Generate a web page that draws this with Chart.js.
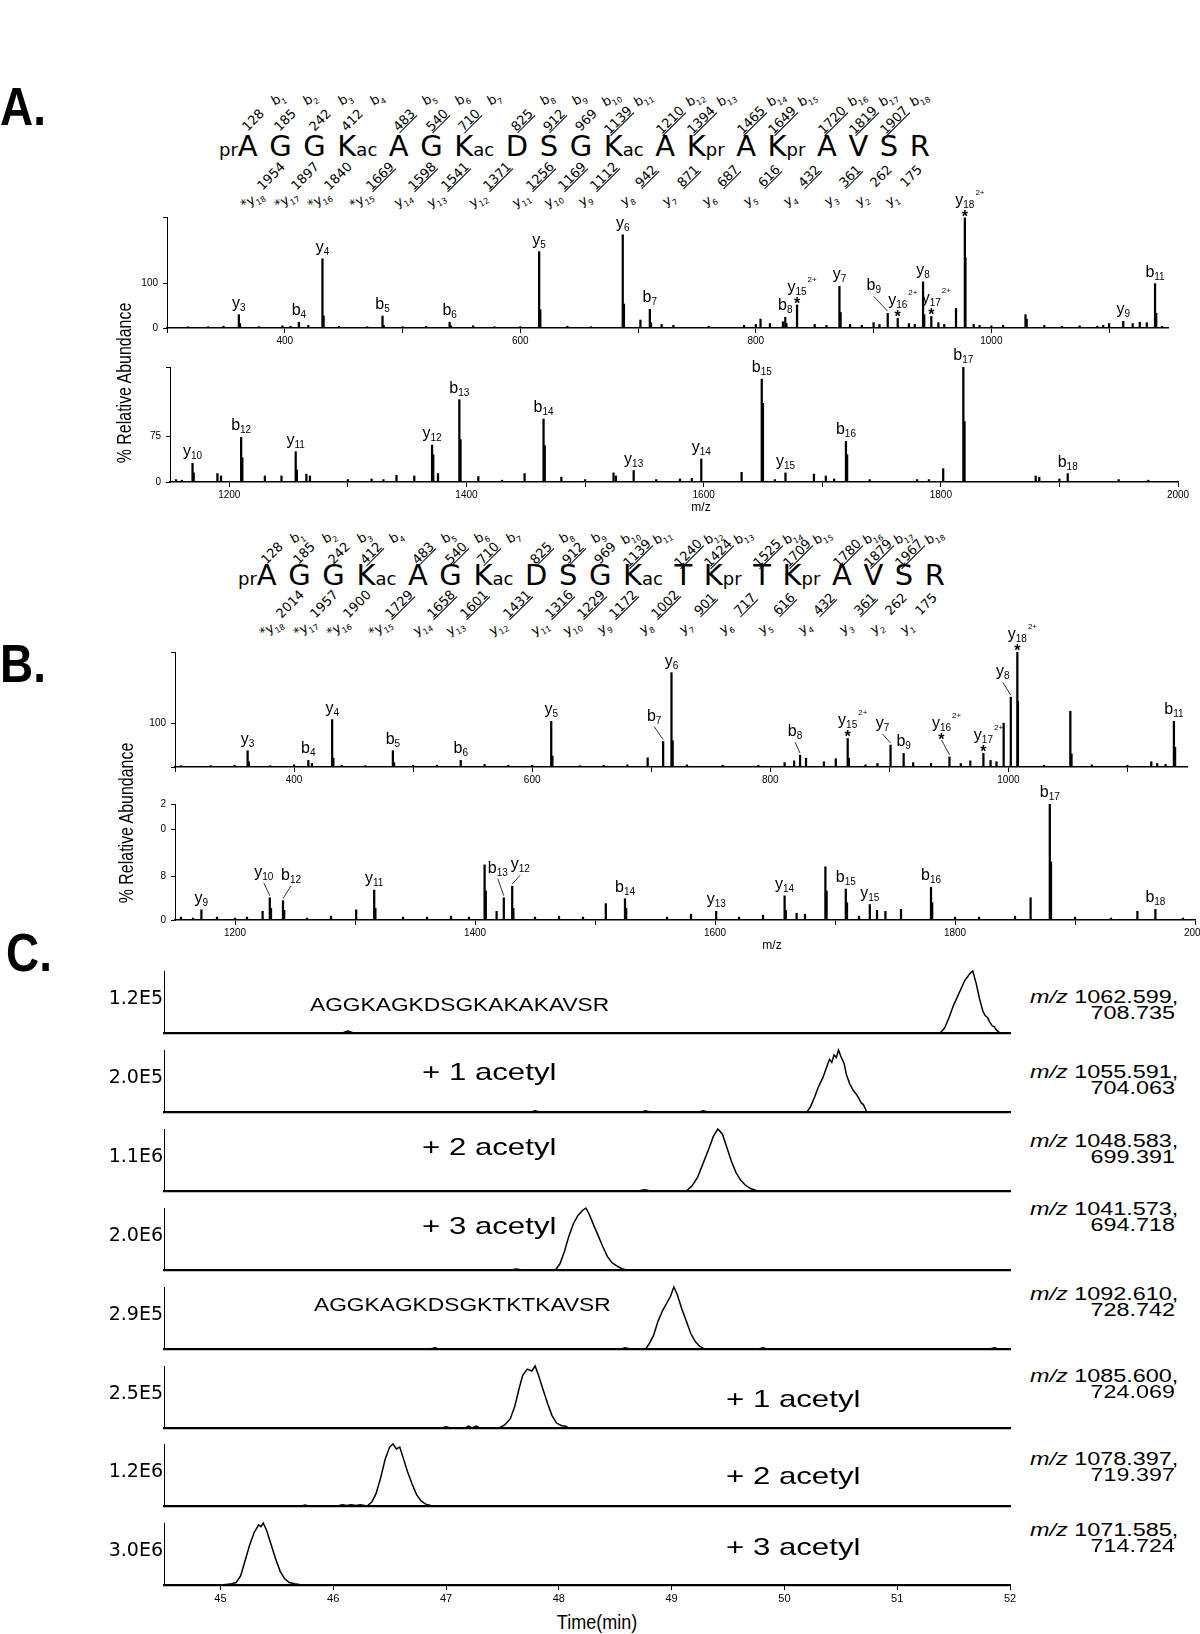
<!DOCTYPE html>
<html>
<head>
<meta charset="utf-8">
<title>MS/MS spectra and extracted ion chromatograms</title>
<script src="https://cdn.jsdelivr.net/npm/chart.js@4.4.1/dist/chart.umd.min.js"></script>
<style>
  body { margin: 0; background: #fff; }
  #fig { position: relative; width: 1200px; height: 1634px; overflow: hidden; background: #fff; color: #000;
         font-family: "Liberation Sans", Arial, sans-serif; }
  #fig canvas { position: absolute; }
  .t { position: absolute; white-space: nowrap; line-height: 1; }
  .seq { position: absolute; display: flex; justify-content: space-between; align-items: baseline;
         font-family: "DejaVu Sans", sans-serif; font-size: 29px; line-height: 1; }
  .seq .m { font-size: 18px; }
  .rot { position: absolute; white-space: nowrap; line-height: 1; font-family: "DejaVu Sans", sans-serif; }
  .num { font-size: 13px; transform: translate(-50%, -50%) rotate(-45deg); }
  .ion { font-size: 13px; transform: translate(-50%, -50%) rotate(-30deg); }
  .ion sub { font-size: 8px; }
  .u { text-decoration: underline; }
</style>
</head>
<body>
<div id="fig"></div>
<script>
// ---- peptide A: AGGKacAGKacDSGKacAKprAKprAVSR ----
const seqA = ['A','G','G','K','A','G','K','D','S','G','K','A','K','A','K','A','V','S','R'];
const modA = ['','','','ac','','','ac','','','','ac','','pr','','pr','','','',''];
const bIonsA = [128,185,242,412,483,540,710,825,912,969,1139,1210,1394,1465,1649,1720,1819,1907];
const bSeenA = [0,0,0,0,1,1,1,1,1,0,1,1,1,1,1,1,1,1];
const yIonsA = [1954,1897,1840,1669,1598,1541,1371,1256,1169,1112,942,871,687,616,432,361,262,175];
const ySeenA = [0,0,0,1,1,1,1,1,1,1,1,1,1,1,1,1,0,0];

// ---- peptide B: AGGKacAGKacDSGKacTKprTKprAVSR ----
const seqB = ['A','G','G','K','A','G','K','D','S','G','K','T','K','T','K','A','V','S','R'];
const modB = ['','','','ac','','','ac','','','','ac','','pr','','pr','','','',''];
const bIonsB = [128,185,242,412,483,540,710,825,912,969,1139,1240,1424,1525,1709,1780,1879,1967];
const bSeenB = [0,0,0,1,1,1,1,1,1,0,1,1,1,1,1,1,1,1];
const yIonsB = [2014,1957,1900,1729,1658,1601,1431,1316,1229,1172,1002,901,717,616,432,361,262,175];
const ySeenB = [0,0,0,1,1,1,1,1,1,1,1,1,1,1,1,1,0,0];
const yStar = [1,1,1,1,0,0,0,0,0,0,0,0,0,0,0,0,0,0];

// ---- spectrum A, low m/z ----
const a1IonNames = ['y3','b4','y4','b5','b6','y5','y6','b7','b8','y15 2+*','y7','b9','y16 2+*','y8','y17 2+*','y18 2+*','y9','b11'];
const a1IonMz = [361,412,432,483,540,616,687,710,825,835,871,912,920.5,942,949,977.5,1112,1139];
const a1IonInt = [30,13,156,27,13,172,210,42,24,52,94,33,22,104,26,248,15,100];
const a1OtherMz = [318,335,348,362,378,398,405,420,433,446,470,484,500,520,541,560,578,600,617,640,660,688,702,711,720,730,760,790,800,804,812,823,826,850,860,872,880,890,900,905,930,935,943,955,960,970,978,985,990,1000,1010,1029,1030,1045,1060,1075,1090,1095,1100,1120,1126,1132,1140,1145];
const a1OtherInt = [3,3,4,10,3,5,4,6,27,4,3,6,3,4,5,5,3,3,41,4,3,54,18,12,8,6,4,6,8,20,10,14,10,8,6,35,8,6,12,8,10,8,30,12,8,44,159,8,6,5,6,30,20,6,4,5,4,6,10,10,13,12,33,4];

// ---- spectrum A, high m/z ----
const a2IonNames = ['y10','b12','y11','y12','b13','b14','y13','y14','b15','y15','b16','b17','b18'];
const a2IonMz = [1169,1210,1256,1371,1394,1465,1541,1598,1649,1669,1720,1819,1907];
const a2IonInt = [31,74,50,61,136,104,19,38,170,15,67,190,14];
const a2OtherMz = [1155,1160,1170,1190,1193,1211,1230,1244,1257,1265,1268,1300,1320,1330,1341,1356,1372,1376,1395,1410,1430,1449,1466,1480,1500,1524,1526,1560,1580,1590,1632,1650,1660,1693,1703,1710,1721,1740,1780,1790,1802,1820,1880,1883,1900,1950,1975];
const a2OtherInt = [4,3,15,14,10,40,10,10,20,13,10,4,5,4,11,10,45,14,70,9,3,14,60,8,4,15,10,4,5,6,16,130,4,13,10,5,45,4,4,4,22,100,10,8,5,4,3];

// ---- spectrum B, low m/z ----
const b1IonNames = ['y3','b4','y4','b5','b6','y5','b7','y6','b8','y15 2+*','y7','b9','y16 2+*','y17 2+*','y8','y18 2+*','b11'];
const b1IonMz = [361,412,432,483,540,616,710,717,825,865,901,912,950.5,979,1002,1007.5,1139];
const b1IonInt = [37,15,108,37,15,104,58,215,27,65,50,31,23,31,159,262,104];
const b1OtherMz = [305,330,350,362,380,400,415,433,440,460,484,500,520,560,580,600,617,640,660,680,697,718,730,760,790,812,820,830,845,855,866,880,890,920,935,960,968,985,990,996,1008,1030,1052,1053,1070,1100,1120,1125,1132,1140];
const b1OtherInt = [3,3,4,12,3,5,8,20,4,3,10,4,4,6,4,4,25,3,4,5,21,60,5,4,4,10,14,20,12,19,20,5,8,10,8,8,14,15,12,100,150,4,127,30,5,4,12,8,6,45];

// ---- spectrum B, high m/z ----
const b2IonNames = ['y9','y10','b12','y11','b13','y12','b14','y13','y14','b15','y15','b16','b17','b18'];
const b2IonMz = [1172,1229,1240,1316,1424,1431,1525,1601,1658,1709,1729,1780,1879,1967];
const b2IonInt = [10.5,23,20,31,23,35,22,9,25,32,16,34,120,11];
const b2OtherMz = [1155,1165,1185,1200,1210,1223,1230,1241,1260,1280,1301,1317,1340,1360,1380,1395,1408,1409,1418,1432,1450,1470,1490,1509,1526,1560,1580,1620,1640,1659,1668,1675,1692,1693,1710,1720,1735,1742,1755,1781,1800,1820,1850,1863,1880,1900,1930,1952,1990];
const b2OtherInt = [3,2,3,2,3,9,12,10,2,4,10.5,12,3,3,4,3,57,30,9,12,3,4,3,17,12,3,6,3,5,10,7,6,55,30,18,4,10,9,11,18,3,3,4,23,60,3,2,9,2];

// ---- extracted ion chromatograms (time in min, % of max) ----
const c1Time = [44.5,46.08,46.13,46.18,51.38,51.42,51.46,51.50,51.55,51.60,51.65,51.67,51.70,51.73,51.76,51.78,51.80,51.82,51.84,51.86,51.88,51.91,52];
const c1Int  = [0,0,3,0,0,8,25,45,65,85,97,100,80,55,35,28,25,18,12,10,5,0,0];
const c2Time = [44.5,47.75,47.79,47.83,48.73,48.77,48.81,49.24,49.28,49.32,50.20,50.23,50.27,50.30,50.34,50.37,50.40,50.42,50.44,50.46,50.48,50.50,50.53,50.55,50.58,50.61,50.64,50.66,50.68,50.70,50.73,52];
const c2Int  = [0,0,2,0,0,2,0,0,2,0,0,8,25,40,55,70,85,80,92,88,100,90,78,60,45,35,28,22,15,12,0,0];
const c3Time = [44.5,48.70,48.76,48.82,49.13,49.18,49.23,49.28,49.33,49.37,49.41,49.45,49.49,49.53,49.57,49.61,49.65,49.70,49.76,52];
const c3Int  = [0,0,2,0,0,8,22,45,68,88,100,92,70,48,30,18,10,4,0,0];
const c4Time = [44.5,47.58,47.62,47.68,47.97,48.01,48.05,48.09,48.13,48.17,48.21,48.24,48.27,48.31,48.35,48.39,48.43,48.47,48.52,48.56,48.60,52];
const c4Int  = [0,0,1.5,0,0,10,30,55,75,88,96,100,90,72,55,38,22,12,6,2,0,0];
const c5Time = [44.5,46.86,46.90,46.94,48.55,48.59,48.63,48.77,48.80,48.84,48.88,48.92,48.96,48.99,49.02,49.05,49.09,49.13,49.17,49.21,49.25,49.29,49.77,49.81,49.85,51.82,51.86,51.90,52];
const c5Int  = [0,0,2,0,0,2,0,0,8,22,45,62,75,85,100,88,65,45,25,12,4,0,0,2,0,0,2,0,0];
const c6Time = [44.5,46.96,47.00,47.04,47.17,47.20,47.23,47.27,47.30,47.47,47.52,47.57,47.61,47.65,47.68,47.72,47.76,47.79,47.82,47.86,47.90,47.94,47.98,48.02,48.06,48.09,52];
const c6Int  = [0,0,2,0,0,3,0,3,0,0,5,15,35,65,85,95,92,100,85,62,40,20,8,4,3,0,0];
const c7Time = [44.5,45.72,45.75,45.78,46.04,46.08,46.12,46.16,46.20,46.24,46.30,46.34,46.38,46.42,46.46,46.50,46.53,46.56,46.59,46.62,46.66,46.70,46.74,46.78,46.82,46.88,52];
const c7Int  = [0,0,1.5,0,0,2,1,2,1,2,0,6,20,45,75,95,100,92,95,78,55,35,18,8,3,0,0];
const c8Time = [44.5,45.00,45.05,45.10,45.14,45.18,45.22,45.26,45.30,45.34,45.36,45.38,45.41,45.45,45.49,45.53,45.57,45.61,45.66,45.72,52];
const c8Int  = [0,0,1,2,4,15,40,65,85,97,94,100,88,65,42,22,10,4,2,0,0];

const cMaxLabels = ['1.2E5','2.0E5','1.1E6','2.0E6','2.9E5','2.5E5','1.2E6','3.0E6'];
const cTitles = ['AGGKAGKDSGKAKAKAVSR','+ 1 acetyl','+ 2 acetyl','+ 3 acetyl','AGGKAGKDSGKTKTKAVSR','+ 1 acetyl','+ 2 acetyl','+ 3 acetyl'];
const cMz1 = ['1062.599,','1055.591,','1048.583,','1041.573,','1092.610,','1085.600,','1078.397,','1071.585,'];
const cMz2 = ['708.735','704.063','699.391','694.718','728.742','724.069','719.397','714.724'];
const timeTicks = [45,46,47,48,49,50,51,52];

const fig = document.getElementById('fig');
const FONT = '"Liberation Sans", Arial, sans-serif';

// place a text span by its baseline; sx stretches it horizontally
function txt(html, x, base, size, align, sx) {
  const s = document.createElement('span');
  s.className = 't';
  s.innerHTML = html;
  s.style.fontSize = size + 'px';
  s.style.left = x + 'px';
  s.style.top = (base - 0.85 * size) + 'px';
  const tx = align === 'center' ? '-50%' : align === 'right' ? '-100%' : '0';
  s.style.transformOrigin = align === 'center' ? 'center center' : align === 'right' ? 'right center' : 'left center';
  s.style.transform = 'translateX(' + tx + ') scaleX(' + (sx || 1) + ')';
  fig.appendChild(s);
  return s;
}

function rot(html, cx, cy, cls) {
  const s = document.createElement('span');
  s.className = 'rot ' + cls;
  s.innerHTML = html;
  s.style.left = cx + 'px';
  s.style.top = cy + 'px';
  fig.appendChild(s);
}

// sequence header with b / y fragment ladders
function buildHeader(h) {
  const row = document.createElement('div');
  row.className = 'seq';
  row.style.left = h.left + 'px';
  row.style.width = (h.right - h.left) + 'px';
  row.style.top = (h.base - 0.846 * 29) + 'px';
  fig.appendChild(row);
  const letters = h.seq.map((r, i) => {
    const c = document.createElement('span');
    if (i === 0) c.innerHTML = '<span class="m">pr</span>';
    const l = document.createElement('span');
    l.textContent = r;
    c.appendChild(l);
    if (h.mods[i]) c.insertAdjacentHTML('beforeend', '<span class="m">' + h.mods[i] + '</span>');
    row.appendChild(c);
    return l;
  });
  const fr = fig.getBoundingClientRect();
  const mid = letters.map(l => { const r = l.getBoundingClientRect(); return (r.left + r.right) / 2 - fr.left; });
  const n = h.seq.length;
  for (let k = 0; k < n - 1; k++) {
    const cut = (mid[k] + mid[k + 1]) / 2;
    rot('<span class="' + (h.bSeen[k] ? 'u' : '') + '">' + h.bIons[k] + '</span>', mid[k] + 5, h.topY, 'num');
    rot('b<sub>' + (k + 1) + '</sub>', mid[k] + 31, h.bY, 'ion');
    rot('<span class="' + (h.ySeen[k] ? 'u' : '') + '">' + h.yIons[k] + '</span>', cut + 7, h.botY, 'num');
    rot((yStar[k] ? '*' : '') + 'y<sub>' + (n - 1 - k) + '</sub>', cut - 11, h.yY, 'ion');
  }
}

// peak annotation: letter, subscript, optional 2+ and asterisk
function drawIon(ctx, px, py, name, sh) {
  const m = name.match(/^([by])(\d+)( 2\+)?(\*)?$/);
  const lx = px + sh[0], ly = py + sh[1];
  ctx.save();
  ctx.fillStyle = '#000';
  ctx.strokeStyle = '#000';
  if (sh[0] || sh[1]) {
    ctx.lineWidth = 0.8;
    ctx.beginPath();
    ctx.moveTo(lx, ly - 1);
    ctx.lineTo(px, py - 2);
    ctx.stroke();
  }
  let base = ly - 4;
  ctx.textBaseline = 'alphabetic';
  if (m[4]) {
    ctx.font = 'bold 16px ' + FONT;
    ctx.textAlign = 'center';
    ctx.fillText('*', lx, ly + 4);
    base = ly - 10;
  }
  ctx.textAlign = 'left';
  ctx.font = '16px ' + FONT;
  const wl = ctx.measureText(m[1]).width;
  ctx.font = '10px ' + FONT;
  const ws = ctx.measureText(m[2]).width;
  const x0 = lx - (wl + ws) / 2;
  ctx.font = '16px ' + FONT;
  ctx.fillText(m[1], x0, base - 3);
  ctx.font = '10px ' + FONT;
  ctx.fillText(m[2], x0 + wl, base);
  if (m[3]) {
    ctx.font = '8px ' + FONT;
    ctx.fillText('2+', x0 + wl + ws + 1, base - 13);
  }
  ctx.restore();
}

function makeSpectrum(o) {
  const padL = 70, padT = 50, padR = 30, axH = 30;
  const cv = document.createElement('canvas');
  cv.width = o.box[2] - o.box[0] + padL + padR;
  cv.height = o.box[3] - o.box[1] + padT + axH;
  cv.style.left = (o.box[0] - padL) + 'px';
  cv.style.top = (o.box[1] - padT) + 'px';
  fig.appendChild(cv);
  const pts = [];
  o.ionMz.forEach((v, i) => pts.push({ x: v, y: o.ionInt[i] }));
  o.otherMz.forEach((v, i) => pts.push({ x: v, y: o.otherInt[i] }));
  pts.sort((a, b) => a.x - b.x);
  const labels = {
    id: 'ionLabels',
    afterDatasetsDraw(chart) {
      const xs = chart.scales.x, ys = chart.scales.y;
      o.ions.forEach((name, i) => {
        drawIon(chart.ctx, xs.getPixelForValue(o.ionMz[i]), ys.getPixelForValue(o.ionInt[i]),
          name, o.shift[name] || [0, 0]);
      });
    }
  };
  new Chart(cv, {
    type: 'bar',
    data: { datasets: [{ data: pts, backgroundColor: '#000', barThickness: 1.6 }] },
    options: {
      responsive: false, animation: false, devicePixelRatio: 1,
      layout: { padding: { left: 0, top: padT, right: padR, bottom: 0 } },
      plugins: { legend: { display: false }, tooltip: { enabled: false } },
      scales: {
        x: {
          type: 'linear', min: o.xr[0], max: o.xr[1], offset: false,
          afterBuildTicks: s => { s.ticks = o.xTicks.map(v => ({ value: v })); },
          afterFit: s => { s.height = axH; },
          grid: { drawOnChartArea: false, drawTicks: true, tickLength: 5, color: '#000', offset: false },
          border: { color: '#000', width: 1.5 },
          ticks: { autoSkip: false, maxRotation: 0, padding: 2, color: '#000',
                   font: { family: FONT, size: 10 },
                   callback: v => o.xLabels.includes(v) ? String(v) : '' }
        },
        y: {
          min: 0, max: o.yMax,
          afterBuildTicks: s => { s.ticks = o.yTicks.map(v => ({ value: v })); },
          afterFit: s => { s.width = padL; },
          grid: { drawOnChartArea: false, drawTicks: true, tickLength: 4, color: '#000' },
          border: { color: '#000', width: 1 },
          ticks: { padding: 5, color: '#000', font: { family: FONT, size: 10 },
                   callback: (v, i) => o.yLabels[i] }
        }
      }
    },
    plugins: [labels]
  });
}

// text placement inside chromatogram rows (left x, baseline) and m/z label baselines
const cTitlePos = [[310,1012],[422,1080],[422,1155],[422,1234],[314,1312],[726,1407],[726,1484],[726,1555]];
const cMzY = [1003, 1078, 1147, 1215, 1300, 1382, 1465, 1536];

function makeTrace(i, times, ints) {
  const top = 971 + i * 78.9, last = i === 7;
  const padL = 64, padT = 4, padR = 12, axH = last ? 24 : 3, plotW = 846, plotH = 62;
  const cv = document.createElement('canvas');
  cv.width = padL + plotW + padR;
  cv.height = padT + plotH + axH;
  cv.style.left = (164 - padL) + 'px';
  cv.style.top = (top - padT) + 'px';
  fig.appendChild(cv);
  new Chart(cv, {
    type: 'line',
    data: { datasets: [{ data: times.map((t, j) => ({ x: t, y: ints[j] })), borderColor: '#000',
            borderWidth: 1.5, pointRadius: 0, tension: 0, clip: 4 }] },
    options: {
      responsive: false, animation: false, devicePixelRatio: 1,
      layout: { padding: { left: 0, top: padT, right: padR, bottom: 0 } },
      plugins: { legend: { display: false }, tooltip: { enabled: false } },
      scales: {
        x: {
          type: 'linear', min: 44.5, max: 52,
          afterBuildTicks: s => { s.ticks = timeTicks.map(v => ({ value: v })); },
          afterFit: s => { s.height = axH; },
          grid: { drawOnChartArea: false, drawTicks: last, tickLength: 5, color: '#000' },
          border: { color: '#000', width: 2.2 },
          ticks: { display: last, padding: 2, color: '#000', maxRotation: 0,
                   font: { family: FONT, size: 11 } }
        },
        y: {
          min: 0, max: 100,
          afterBuildTicks: s => { s.ticks = [{ value: 55 }]; },
          afterFit: s => { s.width = padL; s.paddingTop = 0; s.paddingBottom = 0; },
          grid: { drawOnChartArea: false, drawTicks: false },
          border: { color: '#000', width: 1 },
          ticks: { padding: 1, color: '#000', font: { family: '"DejaVu Sans", sans-serif', size: 19 },
                   callback: () => cMaxLabels[i] }
        }
      }
    }
  });
  const plus = cTitles[i][0] === '+';
  txt(cTitles[i], cTitlePos[i][0], cTitlePos[i][1], plus ? 24 : 17.5, 'left', 1.3);
  txt('<i>m/z</i> ' + cMz1[i], 1030, cMzY[i], 18, 'left', 1.3);
  txt(cMz2[i], 1175, cMzY[i] + 16, 18, 'right', 1.3);
}

// panel letters
txt('A.', 0, 125, 54, 'left', 0.85).style.fontWeight = 'bold';
txt('B.', 0, 682, 54, 'left', 0.85).style.fontWeight = 'bold';
txt('C.', 6, 971, 54, 'left', 0.85).style.fontWeight = 'bold';

buildHeader({ seq: seqA, mods: modA, bIons: bIonsA, bSeen: bSeenA, yIons: yIonsA, ySeen: ySeenA,
              left: 219, right: 930, base: 157, bY: 100, topY: 120, botY: 176, yY: 201 });
buildHeader({ seq: seqB, mods: modB, bIons: bIonsB, bSeen: bSeenB, yIons: yIonsB, ySeen: ySeenB,
              left: 238, right: 945, base: 586, bY: 538, topY: 553, botY: 604, yY: 629 });

makeSpectrum({ box: [167, 217, 1168, 328], xr: [300, 1150], yMax: 250,
  xTicks: [300,400,500,600,700,800,900,1000,1100], xLabels: [400,600,800,1000],
  yTicks: [0, 100, 250], yLabels: ['0', '100', ''],
  ions: a1IonNames, ionMz: a1IonMz, ionInt: a1IonInt, otherMz: a1OtherMz, otherInt: a1OtherInt,
  shift: { 'b9': [-14, -16] } });
makeSpectrum({ box: [170, 367, 1178, 482], xr: [1150, 2000], yMax: 190,
  xTicks: [1200,1300,1400,1500,1600,1700,1800,1900,2000], xLabels: [1200,1400,1600,1800,2000],
  yTicks: [0, 75, 190], yLabels: ['0', '75', ''],
  ions: a2IonNames, ionMz: a2IonMz, ionInt: a2IonInt, otherMz: a2OtherMz, otherInt: a2OtherInt,
  shift: {} });
makeSpectrum({ box: [175, 652, 1187, 767], xr: [300, 1150], yMax: 262,
  xTicks: [300,400,500,600,700,800,900,1000,1100], xLabels: [400,600,800,1000],
  yTicks: [0, 100, 262], yLabels: ['', '100', ''],
  ions: b1IonNames, ionMz: b1IonMz, ionInt: b1IonInt, otherMz: b1OtherMz, otherInt: b1OtherInt,
  shift: { 'b7': [-9, -14], 'b8': [-5, -12], 'y7': [-8, -10], 'y16 2+*': [-8, -16], 'y8': [-8, -14] } });
makeSpectrum({ box: [175, 804, 1195, 920], xr: [1150, 2000], yMax: 120,
  xTicks: [1200,1300,1400,1500,1600,1700,1800,1900,2000], xLabels: [1200,1400,1600,1800,2000],
  yTicks: [0, 45, 94, 120], yLabels: ['0', '8', '0', '2'],
  ions: b2IonNames, ionMz: b2IonMz, ionInt: b2IonInt, otherMz: b2OtherMz, otherInt: b2OtherInt,
  shift: { 'y10': [-6, -14], 'b12': [8, -14], 'b13': [-6, -18], 'y12': [8, -10] } });

// axis titles
[[123, 383], [125, 823]].forEach(p => {
  const s = txt('% Relative Abundance', p[0], p[1], 21, 'left');
  s.style.top = p[1] + 'px';
  s.style.transformOrigin = 'center center';
  s.style.transform = 'translate(-50%, -50%) rotate(-90deg) scaleX(0.76)';
});
txt('m/z', 701, 511, 12, 'center');
txt('m/z', 772, 949, 12, 'center');

const cTimes = [c1Time, c2Time, c3Time, c4Time, c5Time, c6Time, c7Time, c8Time];
const cInts = [c1Int, c2Int, c3Int, c4Int, c5Int, c6Int, c7Int, c8Int];
cTimes.forEach((t, i) => makeTrace(i, t, cInts[i]));
txt('Time(min)', 597, 1629, 20, 'center', 0.9);
</script>
</body>
</html>
